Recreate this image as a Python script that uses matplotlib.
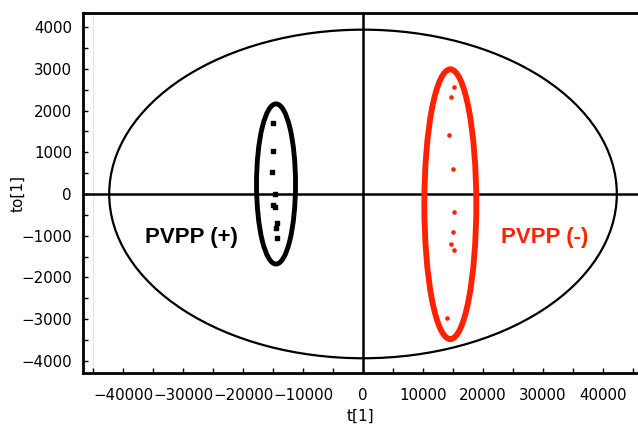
import matplotlib.pyplot as plt
from matplotlib.patches import Ellipse
from matplotlib.ticker import MultipleLocator

# Puntuaciones PVPP (+)
pos_t = [-14950, -15050, -15220, -14670, -14950, -14670, -14380, -14550, -14380]
pos_to = [1700, 1040, 535, 0, -265, -305, -700, -820, -1060]

# Puntuaciones PVPP (-)
neg_t = [15220, 14670, 14380, 14950, 15220, 15050, 14670, 15220, 14050]
neg_to = [2560, 2335, 1410, 595, -440, -910, -1190, -1345, -2980]

# Elipse de Hotelling (semiejes)
t2_a = 42300
t2_b = 3940

rojo = '#FF2200'

fig = plt.figure(figsize=(6.38, 4.34), dpi=100)
ax = fig.add_axes([0.1301, 0.1406, 0.8699, 0.8288])

ax.axvline(-45000, color='#e4e4e4', lw=0.8, zorder=0)
ax.axhline(0, color='black', lw=1.8, zorder=1)
ax.axvline(0, color='black', lw=1.8, zorder=1)

ax.add_patch(Ellipse((0, 0), 2 * t2_a, 2 * t2_b, fill=False, ec='black', lw=1.6, zorder=2))
ax.add_patch(Ellipse((-14500, 240), 6500, 3840, fill=False, ec='black', lw=3.5, zorder=3))
ax.add_patch(Ellipse((14550, -245), 8660, 6470, fill=False, ec=rojo, lw=4.2, zorder=3))

ax.scatter(pos_t, pos_to, marker='s', s=6, color='black', zorder=4)
ax.scatter(neg_t, neg_to, marker='o', s=11, color=rojo, lw=0, zorder=4)

ax.text(-28580, -1055, 'PVPP (+)', color='black', fontsize=16, fontweight='bold',
        family='Liberation Sans', ha='center', va='center')
ax.text(30330, -1055, 'PVPP (-)', color=rojo, fontsize=16, fontweight='bold',
        family='Liberation Sans', ha='center', va='center')

ax.set_xlim(-46670, 45830)
ax.set_ylim(-4293, 4333)
ax.xaxis.set_major_locator(MultipleLocator(10000))
ax.xaxis.set_minor_locator(MultipleLocator(5000))
ax.yaxis.set_major_locator(MultipleLocator(1000))
ax.yaxis.set_minor_locator(MultipleLocator(500))
ax.tick_params(which='both', direction='in', length=3.5, width=1, labelsize=10.8)
ax.tick_params(axis='x', which='both', pad=11)
ax.tick_params(axis='y', which='both', pad=8)
for s in ax.spines.values():
    s.set_linewidth(2)
ax.spines['right'].set_visible(False)

ax.set_xlabel('t[1]', fontsize=11, labelpad=4)
ax.set_ylabel('to[1]', fontsize=11, labelpad=-3)

plt.savefig('out.png', dpi=100)
